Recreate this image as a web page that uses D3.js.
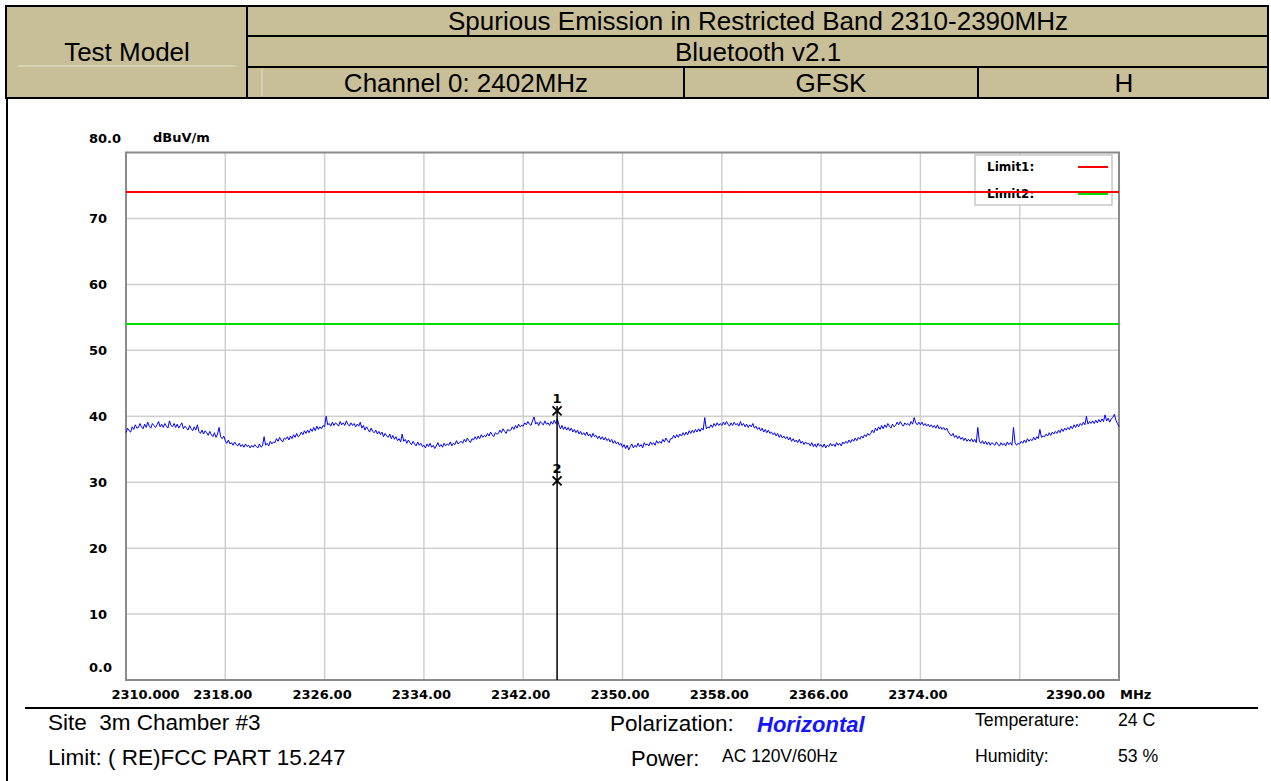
<!DOCTYPE html>
<html>
<head>
<meta charset="utf-8">
<script src="https://cdn.jsdelivr.net/npm/d3@7"></script>
<style>
  html, body { margin: 0; padding: 0; background: #ffffff; }
  svg { display: block; }
  .hdr { font-family: "Liberation Sans", Arial, sans-serif; font-size: 26px; fill: #000; }
  .axis text { font-family: "DejaVu Sans", sans-serif; font-weight: bold; font-size: 13px; fill: #000; }
  .foot { font-family: "Liberation Sans", Arial, sans-serif; white-space: pre; }
</style>
</head>
<body>
<svg id="chart" width="1271" height="781"></svg>
<script>
// ---- Header table content ----
const headerTitle = "Spurious Emission in Restricted Band 2310-2390MHz";
const headerStandard = "Bluetooth v2.1";
const headerModel = "Test Model";
const headerRow3 = ["Channel 0: 2402MHz", "GFSK", "H"];

// ---- Axis ticks ----
const yTicks = [0, 10, 20, 30, 40, 50, 60, 70, 80];
const yTickLabels = ["0.0", "10", "20", "30", "40", "50", "60", "70", "80.0"];
const xGridFreqs = [2318, 2326, 2334, 2342, 2350, 2358, 2366, 2374, 2382];
const xTicks = [2310, 2318, 2326, 2334, 2342, 2350, 2358, 2366, 2374, 2390];
const xTickLabels = ["2310.000", "2318.00", "2326.00", "2334.00", "2342.00", "2350.00", "2358.00", "2366.00", "2374.00", "2390.00"];
const yUnit = "dBuV/m";
const xUnit = "MHz";

// ---- Limit lines (dBuV/m) ----
const limitNames = ["Limit1:", "Limit2:"];
const limitLevels = [74, 54];
const limitColors = ["#ff0000", "#00dd00"];

// ---- Measured trace: level every 0.125 MHz from 2310 MHz (one row = 4 MHz) ----
const traceStart = 2310;
const traceStep = 0.125;
const traceLevels = [
  37.5, 38.2, 37.8, 37.6, 38.4, 38.0, 38.7, 38.2, 38.3, 38.9, 38.4, 38.1, 38.8, 38.3, 39.1, 38.5,
  38.2, 38.9, 38.6, 38.3, 38.7, 39.2, 38.4, 38.8, 38.3, 38.9, 38.5, 38.2, 39.3, 38.6, 38.4, 38.9,
  38.3, 38.8, 38.2, 38.6, 39.0, 38.1, 38.5, 38.2, 37.9, 38.6, 38.1, 37.8, 38.4, 37.9, 38.7, 37.7,
  37.4, 37.9, 37.3, 37.8, 37.5, 37.1, 37.7, 37.2, 36.9, 37.5, 36.8, 37.3, 38.3, 36.9, 36.6, 37.0,
  36.3, 35.9, 36.4, 35.8, 36.0, 35.6, 36.1, 35.7, 35.5, 35.9, 35.4, 35.7, 35.3, 35.8, 35.4, 35.6,
  35.2, 35.6, 35.3, 35.7, 35.4, 35.2, 35.8, 35.3, 35.5, 36.9, 35.6, 35.9, 35.5, 36.2, 35.8, 36.1,
  36.0, 36.6, 36.2, 36.8, 36.4, 36.1, 36.7, 36.5, 36.9, 36.4, 37.0, 36.6, 37.2, 36.8, 37.4, 36.9,
  37.1, 37.6, 37.2, 37.8, 37.4, 37.9, 37.5, 38.1, 37.7, 38.3, 37.8, 38.5, 38.0, 38.4, 38.1, 38.6,
  38.4, 40.0, 38.7, 38.9, 38.5, 39.1, 38.6, 39.0, 38.8, 38.5, 39.2, 38.7, 39.0, 38.6, 39.3, 38.8,
  38.5, 39.0, 38.6, 38.9, 38.4, 38.8, 38.5, 39.1, 38.2, 38.6, 37.9, 38.4, 38.0, 37.6, 38.2, 37.7,
  37.5, 37.9, 37.3, 37.7, 37.2, 37.6, 36.9, 37.4, 37.0, 36.8, 37.3, 36.6, 37.1, 36.5, 36.9, 36.3,
  36.6, 36.1, 37.3, 36.2, 36.5, 35.9, 36.4, 36.0, 35.7, 36.2, 35.8, 35.5, 36.1, 35.6, 35.9, 35.4,
  35.6, 35.2, 35.8, 35.4, 35.9, 35.3, 35.6, 35.1, 35.5, 36.0, 35.4, 35.7, 35.3, 35.9, 35.5, 35.8,
  35.6, 36.1, 35.5, 35.9, 35.7, 36.3, 35.8, 36.0, 36.2, 35.9, 36.5, 36.1, 36.7, 36.3, 36.0, 36.6,
  36.4, 36.9, 36.5, 37.0, 36.6, 37.2, 36.8, 37.1, 36.9, 37.4, 37.0, 37.6, 37.2, 36.9, 37.5, 37.3,
  37.4, 37.9, 37.5, 38.1, 37.7, 37.4, 38.0, 37.8, 37.9, 38.4, 38.0, 38.6, 38.2, 38.8, 38.4, 38.6,
  38.5, 39.0, 38.7, 39.2, 38.8, 38.6, 39.3, 39.9, 38.8, 39.1, 38.6, 39.2, 38.9, 38.7, 39.3, 38.8,
  39.0, 38.6, 39.2, 38.8, 39.4, 38.9, 39.6, 38.7, 38.1, 38.6, 38.0, 38.4, 37.9, 38.3, 37.8, 38.2,
  37.6, 38.0, 37.5, 37.9, 37.3, 37.7, 37.2, 37.5, 37.1, 37.6, 37.0, 37.3, 36.8, 37.4, 36.9, 37.1,
  36.6, 37.0, 36.5, 36.9, 36.4, 36.8, 36.3, 36.6, 36.1, 36.5, 35.9, 36.3, 35.8, 36.1, 35.6, 35.9,
  35.3, 35.7, 35.1, 35.6, 34.9, 35.4, 35.8, 35.2, 35.6, 35.3, 35.9, 35.4, 35.7, 35.2, 36.0, 35.6,
  35.8, 35.5, 36.1, 35.7, 36.0, 35.6, 36.3, 35.9, 36.2, 35.9, 36.5, 36.1, 36.7, 36.3, 36.0, 36.6,
  36.6, 37.1, 36.7, 37.2, 36.8, 37.3, 37.0, 37.5, 37.1, 37.6, 37.2, 37.8, 37.4, 37.9, 37.5, 38.0,
  37.6, 38.1, 37.7, 38.2, 37.9, 39.8, 38.1, 38.4, 38.2, 38.7, 38.3, 38.9, 38.5, 39.0, 38.6, 38.9,
  38.6, 39.1, 38.7, 39.2, 38.8, 38.5, 39.0, 38.6, 39.1, 38.7, 38.9, 38.5, 39.2, 38.6, 38.9, 38.4,
  38.8, 38.3, 38.7, 38.4, 38.9, 38.2, 38.5, 38.0, 38.3, 37.8, 38.2, 37.6, 38.0, 37.5, 37.9, 37.4,
  37.6, 37.2, 37.5, 37.0, 37.4, 36.8, 37.2, 36.7, 37.0, 36.6, 36.9, 36.4, 36.8, 36.2, 36.6, 36.1,
  36.4, 36.0, 36.5, 35.9, 36.2, 35.7, 36.1, 35.8, 35.9, 35.5, 36.0, 35.4, 35.8, 35.3, 35.9, 35.5,
  35.7, 35.3, 35.8, 35.2, 35.6, 35.4, 35.9, 35.5, 35.8, 35.4, 36.0, 35.6, 35.9, 35.5, 36.1, 35.8,
  36.2, 35.9, 36.4, 36.0, 36.5, 36.2, 36.7, 36.3, 36.8, 36.5, 37.0, 36.7, 37.2, 36.9, 37.4, 37.1,
  37.4, 37.9, 37.5, 38.2, 37.8, 38.4, 38.0, 38.6, 38.1, 38.7, 38.3, 38.9, 38.5, 38.2, 38.8, 38.4,
  38.6, 39.1, 38.7, 39.2, 38.8, 38.5, 39.0, 38.7, 38.9, 38.6, 39.2, 38.8, 39.8, 39.0, 38.7, 39.1,
  38.7, 39.1, 38.6, 38.9, 38.5, 38.8, 38.4, 38.7, 38.3, 38.6, 38.2, 38.7, 38.1, 38.4, 38.0, 38.3,
  37.9, 38.2, 37.6, 37.3, 37.0, 37.4, 36.8, 37.1, 36.6, 37.0, 36.5, 36.8, 36.3, 36.7, 36.2, 36.5,
  36.2, 36.6, 36.1, 36.5, 36.0, 38.3, 36.2, 35.9, 36.3, 35.8, 36.2, 35.7, 36.1, 35.6, 36.0, 35.8,
  35.6, 36.1, 35.7, 35.5, 36.0, 35.6, 35.9, 35.5, 36.1, 35.7, 36.0, 35.6, 38.3, 36.0, 35.6, 35.9,
  35.8, 36.2, 35.9, 36.4, 36.0, 36.6, 36.2, 36.5, 36.3, 36.8, 36.4, 36.9, 36.6, 38.0, 36.8, 37.0,
  36.9, 37.3, 37.0, 37.5, 37.1, 37.6, 37.3, 37.7, 37.4, 37.9, 37.5, 38.1, 37.7, 38.2, 37.9, 38.3,
  38.0, 38.5, 38.1, 38.7, 38.3, 38.8, 38.4, 38.9, 38.6, 39.1, 38.7, 40.0, 38.8, 39.2, 38.9, 39.3,
  38.9, 39.4, 39.0, 39.5, 39.1, 39.6, 39.2, 40.2, 39.3, 39.7, 39.1, 39.6, 39.8, 40.3, 39.4, 38.9,
  38.4
];

// ---- Markers ----
const markerIds = ["1", "2"];
const markerFreqs = [2344.73, 2344.73];
const markerLevels = [40.8, 30.2];

// ---- Footer information ----
const siteText = "Site  3m Chamber #3";
const limitText = "Limit:  ( RE)FCC PART 15.247";
const polarization = "Horizontal";
const powerText = "AC 120V/60Hz";
const temperature = "24 C";
const humidity = "53 %";

const svg = d3.select("#chart");
const beige = "#c8bf99";

// ---------- header table ----------
const hdr = svg.append("g");
hdr.append("rect").attr("x", 6).attr("y", 6).attr("width", 1262).attr("height", 92)
  .attr("fill", beige).attr("stroke", "#000").attr("stroke-width", 2);
// soft bevel highlights
hdr.append("line").attr("x1", 18).attr("x2", 236).attr("y1", 66).attr("y2", 66)
  .attr("stroke", "#e6e1cc").attr("stroke-width", 1);
hdr.append("line").attr("x1", 262).attr("x2", 262).attr("y1", 69).attr("y2", 96)
  .attr("stroke", "#e6e1cc").attr("stroke-width", 1);
// grid lines of the table
const hLines = [[247, 1268, 36], [247, 1268, 67]];
hLines.forEach(([a, b, yy]) => hdr.append("line").attr("x1", a).attr("x2", b).attr("y1", yy).attr("y2", yy)
  .attr("stroke", "#000").attr("stroke-width", 2));
const vLines = [[247, 6, 98], [684, 67, 98], [978, 67, 98]];
vLines.forEach(([xx, a, b]) => hdr.append("line").attr("x1", xx).attr("x2", xx).attr("y1", a).attr("y2", b)
  .attr("stroke", "#000").attr("stroke-width", 2));

const hdrText = (t, cx, cy) => hdr.append("text").attr("class", "hdr").attr("x", cx).attr("y", cy)
  .attr("text-anchor", "middle").attr("dominant-baseline", "central").text(t);
hdrText(headerModel, 127, 52);
hdrText(headerTitle, 758, 21);
hdrText(headerStandard, 758, 52);
hdrText(headerRow3[0], 466, 83);
hdrText(headerRow3[1], 831, 83);
hdrText(headerRow3[2], 1124, 83);

// body left border
svg.append("line").attr("x1", 7).attr("x2", 7).attr("y1", 98).attr("y2", 781)
  .attr("stroke", "#000").attr("stroke-width", 2);

// ---------- plot ----------
const x = d3.scaleLinear().domain([2310, 2390]).range([126, 1119]);
const y = d3.scaleLinear().domain([0, 80]).range([680, 152.5]);

const plot = svg.append("g");
// grid
plot.selectAll("line.vg").data(xGridFreqs).join("line").attr("class", "vg")
  .attr("x1", d => x(d)).attr("x2", d => x(d)).attr("y1", y(80)).attr("y2", y(0))
  .attr("stroke", "#cfcfcf").attr("stroke-width", 1.5);
plot.selectAll("line.hg").data(yTicks.filter(v => v > 0 && v < 80)).join("line").attr("class", "hg")
  .attr("x1", x(2310)).attr("x2", x(2390)).attr("y1", d => y(d)).attr("y2", d => y(d))
  .attr("stroke", "#cfcfcf").attr("stroke-width", 1.5);

// frame
plot.append("rect").attr("x", x(2310)).attr("y", y(80))
  .attr("width", x(2390) - x(2310)).attr("height", y(0) - y(80))
  .attr("fill", "none").attr("stroke", "#8a8a8a").attr("stroke-width", 2);

// legend box
const lg = plot.append("g");
lg.append("rect").attr("x", 975).attr("y", 155).attr("width", 137).attr("height", 50)
  .attr("fill", "#ffffff").attr("stroke", "#c8c8c8").attr("stroke-width", 1.5);
limitNames.forEach((n, i) => {
  const ly = 167 + i * 27;
  lg.append("text").attr("x", 987).attr("y", ly).attr("dominant-baseline", "central")
    .attr("font-family", "DejaVu Sans, sans-serif").attr("font-weight", "bold").attr("font-size", 12)
    .text(n);
  lg.append("line").attr("x1", 1078).attr("x2", 1108).attr("y1", ly).attr("y2", ly)
    .attr("stroke", limitColors[i]).attr("stroke-width", 2);
});

// limit lines
plot.selectAll("line.limit").data(limitLevels).join("line").attr("class", "limit")
  .attr("x1", x(2310)).attr("x2", x(2390)).attr("y1", d => y(d)).attr("y2", d => y(d))
  .attr("stroke", (d, i) => limitColors[i]).attr("stroke-width", 2);

// trace
const traceData = traceLevels.map((v, i) => [traceStart + i * traceStep, v]);
plot.append("path").datum(traceData)
  .attr("fill", "none").attr("stroke", "#0000ff").attr("stroke-width", 1)
  .attr("d", d3.line().x(d => x(d[0])).y(d => y(d[1])));

// markers
const mTop = d3.max(markerLevels);
plot.append("line").attr("x1", x(markerFreqs[0])).attr("x2", x(markerFreqs[0]))
  .attr("y1", y(mTop) - 5).attr("y2", y(0)).attr("stroke", "#000").attr("stroke-width", 1.5);
markerIds.forEach((id, i) => {
  const mx = x(markerFreqs[i]), my = y(markerLevels[i]);
  const s = 4.5;
  plot.append("path").attr("d", `M${mx - s},${my - s}L${mx + s},${my + s}M${mx + s},${my - s}L${mx - s},${my + s}`)
    .attr("stroke", "#000").attr("stroke-width", 1.8).attr("fill", "none");
  plot.append("text").attr("x", mx).attr("y", my - 12).attr("text-anchor", "middle")
    .attr("dominant-baseline", "central")
    .attr("font-family", "DejaVu Sans, sans-serif").attr("font-weight", "bold").attr("font-size", 13)
    .text(id);
});

// y axis
const yAxis = d3.axisLeft(y).tickValues(yTicks).tickSize(0)
  .tickFormat((d, i) => yTickLabels[i]);
const gy = svg.append("g").attr("class", "axis").attr("transform", `translate(${x(2310)},0)`).call(yAxis);
gy.select(".domain").remove();
gy.selectAll("text").attr("text-anchor", "start").attr("x", 89 - x(2310)).attr("dy", null)
  .attr("dominant-baseline", "central")
  .attr("transform", d => (d === 80 ? "translate(0,-15)" : d === 0 ? "translate(0,-13)" : null));
svg.append("text").attr("x", 153).attr("y", y(80) - 15)
  .attr("dominant-baseline", "central")
  .attr("font-family", "DejaVu Sans, sans-serif").attr("font-weight", "bold").attr("font-size", 13)
  .text(yUnit);

// x axis
const xAxis = d3.axisBottom(x).tickValues(xTicks).tickSize(0)
  .tickFormat((d, i) => xTickLabels[i]);
const gx = svg.append("g").attr("class", "axis").attr("transform", `translate(0,${y(0)})`).call(xAxis);
gx.select(".domain").remove();
gx.selectAll("text").attr("y", 14).attr("dy", null).attr("dominant-baseline", "central")
  .attr("transform", d => (d === 2310 ? "translate(19,0)" : d === 2390 ? "translate(-44,0)" : "translate(-3,0)"));
svg.append("text").attr("x", 1120).attr("y", y(0) + 14).attr("dominant-baseline", "central")
  .attr("font-family", "DejaVu Sans, sans-serif").attr("font-weight", "bold").attr("font-size", 13)
  .text(xUnit);

// ---------- footer ----------
svg.append("line").attr("x1", 25).attr("x2", 1258).attr("y1", 708).attr("y2", 708)
  .attr("stroke", "#000").attr("stroke-width", 2);
const foot = (t, xx, yy, size, color) => svg.append("text").attr("class", "foot")
  .attr("x", xx).attr("y", yy).attr("dominant-baseline", "central")
  .attr("font-size", size).style("fill", color || "#000").text(t);
foot(siteText, 48, 722, 22.5);
foot(limitText.replace("  ", " "), 48, 757, 22.5);
foot("Polarization:", 610, 723, 22.5);
foot(polarization, 757, 724, 22, "#1414ff").attr("font-weight", "bold").attr("font-style", "italic");
foot("Power:", 631, 758, 22);
foot(powerText, 722, 756, 17.5);
foot("Temperature:", 975, 720, 17.7);
foot(temperature, 1118, 720, 17.7);
foot("Humidity:", 975, 756, 17.7);
foot(humidity, 1118, 756, 17.7);
</script>
</body>
</html>
